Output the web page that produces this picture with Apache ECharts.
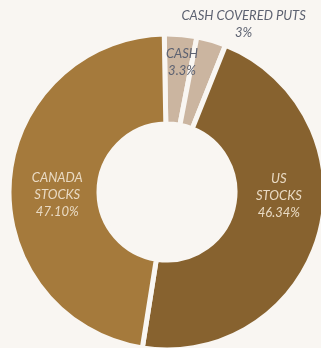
<!DOCTYPE html>
<html>
<head>
<meta charset="utf-8">
<script src="https://cdn.jsdelivr.net/npm/echarts@6/dist/echarts.min.js"></script>
<style>
  html, body { margin: 0; padding: 0; background: #f9f6f2; }
  #chart { width: 321px; height: 348px; }
</style>
</head>
<body>
<div id="chart"></div>
<script>
// Portfolio allocation, clockwise from the top
const categories = ['CASH', 'CASH COVERED PUTS', 'US\nSTOCKS', 'CANADA\nSTOCKS'];
const values = [3.3, 3, 46.34, 47.10];
const valueLabels = ['3.3%', '3%', '46.34%', '47.10%'];
const colors = ['#cbb5a0', '#cbb5a0', '#87622f', '#a57a3c'];
const labelColors = ['#5d6271', '#5d6271', '#e9dac3', '#e9dac3'];
// label nudges away from the default slice-centre position
const labelShift = [[5, -14], [44, -56], [0, -27], [6, 11]];

const chart = echarts.init(document.getElementById('chart'));

chart.setOption({
  backgroundColor: '#f9f6f2',
  animation: false,
  series: [{
    type: 'pie',
    center: [167, 192],
    radius: [68, 158],
    startAngle: 91,
    clockwise: true,
    avoidLabelOverlap: false,
    itemStyle: { borderColor: '#f9f6f2', borderWidth: 5 },
    label: {
      position: 'inside',
      fontFamily: 'Lato',
      fontStyle: 'italic',
      fontSize: 13,
      lineHeight: 17
    },
    labelLine: { show: false },
    labelLayout: (p) => ({ dx: labelShift[p.dataIndex][0], dy: labelShift[p.dataIndex][1] }),
    data: categories.map((name, i) => ({
      name,
      value: values[i],
      itemStyle: { color: colors[i] },
      label: {
        color: labelColors[i],
        formatter: () => name + '\n' + valueLabels[i]
      }
    }))
  }]
});
</script>
</body>
</html>
